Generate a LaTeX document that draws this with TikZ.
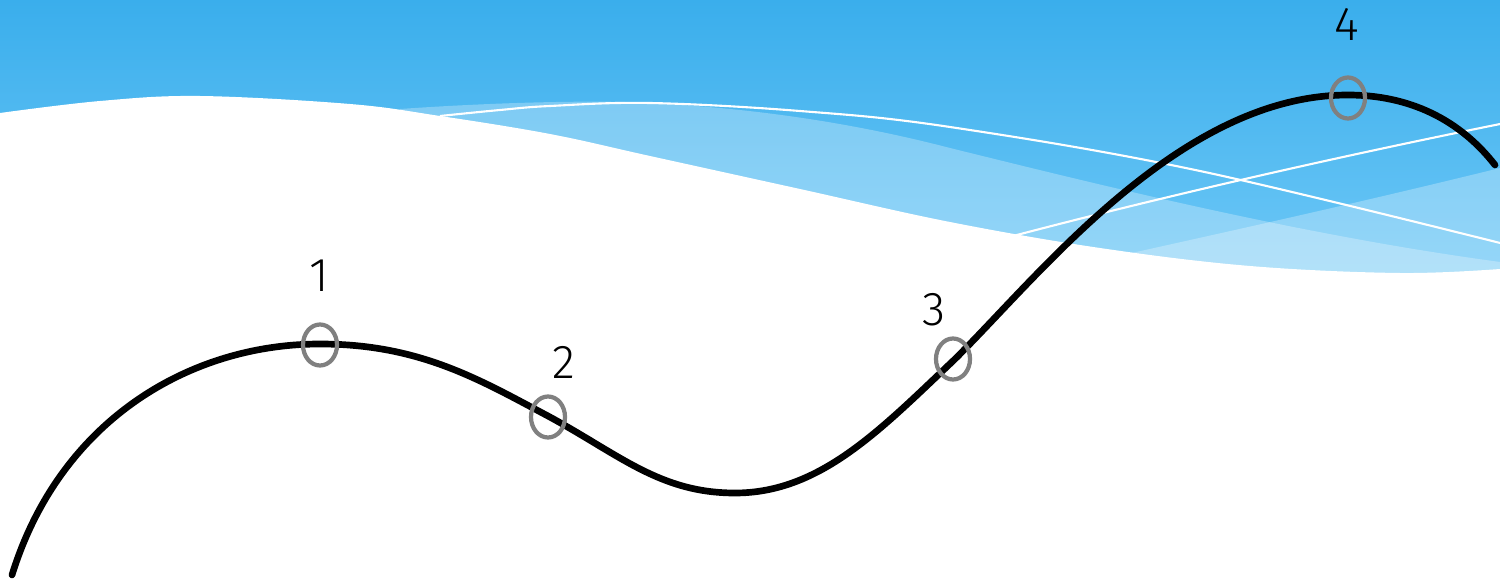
\documentclass[tikz,border=0pt]{standalone}
\usepackage{fontspec}
\newfontfamily\lblfont{Fira Sans Light}
\usetikzlibrary{shapes.geometric}
\definecolor{skytop}{RGB}{58,174,236}
\definecolor{skybot}{RGB}{112,201,247}
\definecolor{ringgray}{RGB}{128,128,128}
\tikzset{
  lbl/.style={inner sep=0pt, font=\lblfont\fontsize{13.5}{16}\selectfont, text=black},
  ring/.style={draw=ringgray, line width=1.2pt, ellipse, minimum width=0.34cm, minimum height=0.41cm, inner sep=0pt},
  wave/.style={fill=white, fill opacity=0.28, draw=none},
  whiteline/.style={draw=white, line width=0.6pt},
  pencil/.style={draw=black, line width=1.9pt, line cap=round, line join=round}
}
\begin{document}
\begin{tikzpicture}[x=0.01cm, y=-0.01cm]
\useasboundingbox (0,0) rectangle (1500,582);
\begin{scope}
\clip (0,0) rectangle (1500,582);
% sky gradient
\shade[top color=skytop, bottom color=skybot] (0,0) rectangle (1500,290);
% light waves
\path[wave] (400,109) .. controls (500,102) and (600,100) .. (650,103)
  .. controls (750,108) and (850,122) .. (950,148)
  .. controls (1100,185) and (1300,235) .. (1500,262) -- (1500,300) -- (400,300) -- cycle;
\path[wave] (1000,282) .. controls (1200,238) and (1350,205) .. (1500,168) -- (1500,300) -- (1000,300) -- cycle;
% white lines
\draw[whiteline] plot[smooth, tension=0.6] coordinates {(440,116) (500,110) (550,106) (650,103) (800,111) (950,127) (1200,171) (1520,248)};
\draw[whiteline] (1013,236) .. controls (1150,200) and (1320,160) .. (1520,120);
% white ground
\fill[white] plot[smooth, tension=0.6] coordinates {(0,113) (100,101) (200,96) (350,104) (440,116) (550,134) (650,156) (800,189) (950,222) (1100,248) (1250,266) (1400,273) (1500,269)} -- (1500,582) -- (0,582) -- cycle;
\end{scope}
% pencil curve
\coordinate (c0) at (12,575);
\coordinate (c1) at (320,344);
\coordinate (c2) at (548,416);
\coordinate (c3) at (735,493);
\coordinate (c4) at (954,360);
\coordinate (c5) at (1348,95);
\coordinate (c6) at (1495,165);
\draw[pencil] (c0) .. controls (60,420) and (190,344) .. (c1)
  .. controls (420,344) and (480,380) .. (c2)
  .. controls (620,455) and (660,493) .. (c3)
  .. controls (820,493) and (880,430) .. (c4)
  .. controls (1040,275) and (1180,95) .. (c5)
  .. controls (1410,95) and (1460,120) .. (c6);
% rings
\node[ring] (r1) at (320,345) {};
\node[ring] (r2) at (548,417) {};
\node[ring] (r3) at (953,359) {};
\node[ring] (r4) at (1348,98) {};
% labels
\node[lbl] (l1) at (319,276) {1};
\node[lbl] (l2) at (564,362) {2};
\node[lbl] (l3) at (934,310) {3};
\node[lbl] (l4) at (1347,24) {4};
\end{tikzpicture}
\end{document}
